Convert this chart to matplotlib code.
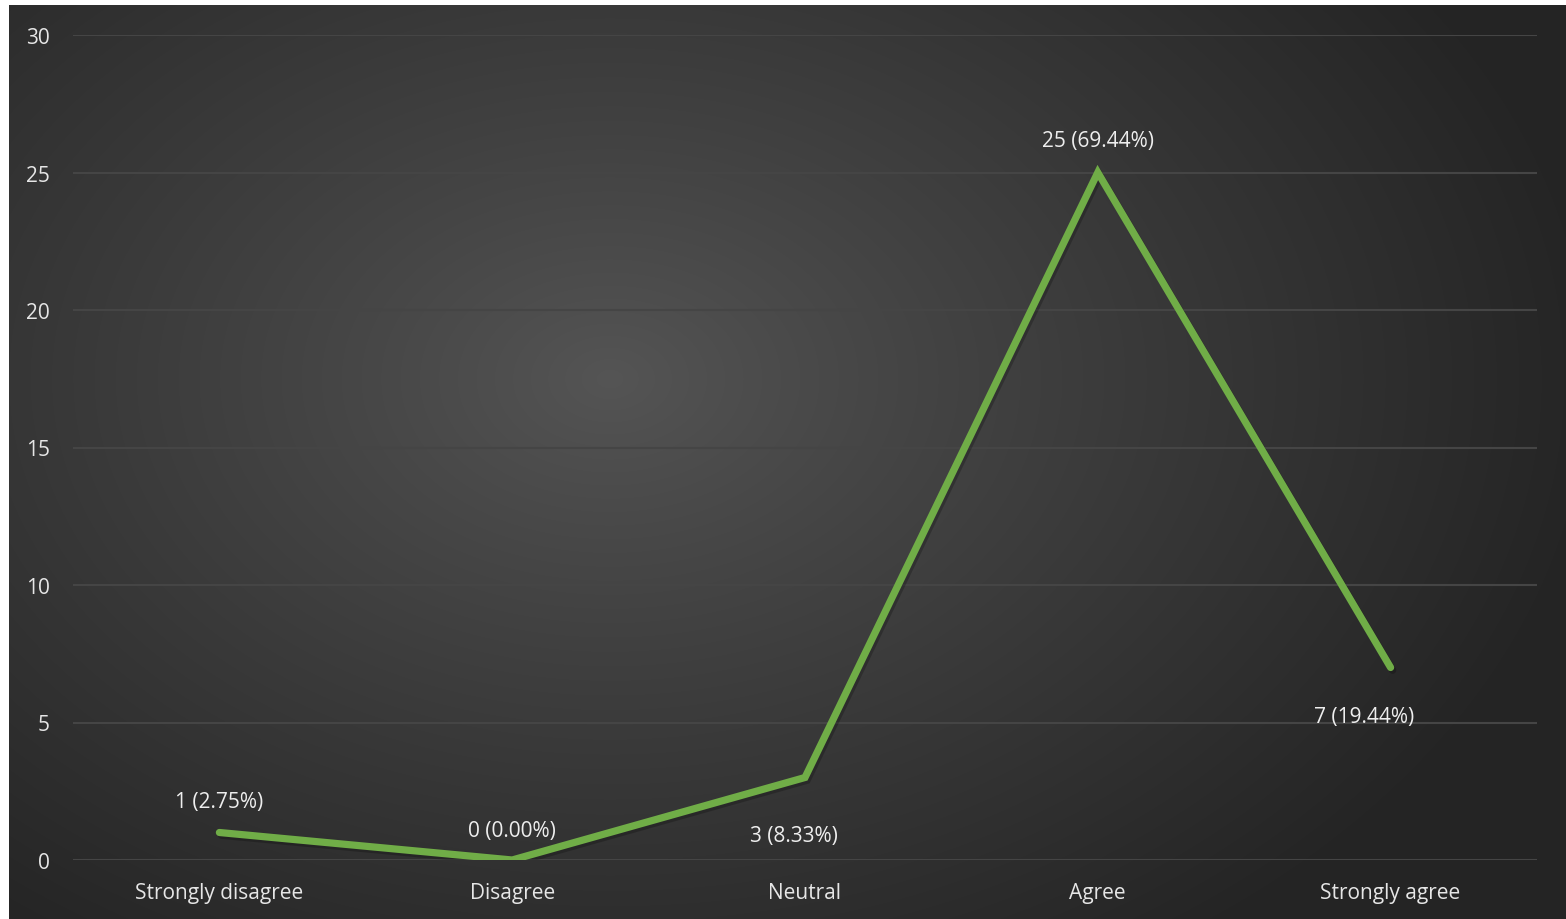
import numpy as np
import matplotlib
matplotlib.use("Agg")
import matplotlib.pyplot as plt
import matplotlib.patheffects as pe

categories = ["Strongly disagree", "Disagree", "Neutral", "Agree", "Strongly agree"]
counts = [1, 0, 3, 25, 7]
percents = ["2.75%", "0.00%", "8.33%", "69.44%", "19.44%"]
yticks = [0, 5, 10, 15, 20, 25, 30]

W, H = 1566, 920
fig = plt.figure(figsize=(W / 100, H / 100), dpi=100)
fig.patch.set_facecolor("white")

# background with radial gradient
bx0, by0 = 9, 6
bg = fig.add_axes([bx0 / W, 0, (W - bx0) / W, (H - by0) / H])
bg.set_axis_off()
nx, ny = 1557, 914
xs = np.linspace(bx0, W, nx)
ys = np.linspace(by0, H, ny)
X, Y = np.meshgrid(xs, ys)
cx, cy = 610, 380
r = np.sqrt(((X - cx) / 1000) ** 2 + ((Y - cy) / 700) ** 2)
r = np.clip(r, 0, 1)
c_in, c_out = 0x55 / 255, 0x24 / 255
val = c_in + (c_out - c_in) * r ** 0.9
img = np.dstack([val, val, val])
bg.imshow(img, aspect="auto", extent=[0, 1, 0, 1], origin="upper", interpolation="bilinear")
bg.set_xlim(0, 1)
bg.set_ylim(0, 1)

ax = fig.add_axes([73 / W, 59 / H, 1464 / W, 825 / H])
ax.patch.set_alpha(0)
x = np.arange(len(categories))
ax.plot(x, counts, color="#70AD47", lw=5.2, solid_capstyle="round", solid_joinstyle="miter",
        zorder=3,
        path_effects=[pe.SimpleLineShadow(offset=(1.5, -2), shadow_color="black", alpha=0.22),
                      pe.Normal()])
ax.set_xlim(-0.5, 4.5)
ax.set_ylim(0, 30)
ax.set_yticks(yticks)
ax.set_xticks(x)
ax.set_xticklabels(categories)
for s in ax.spines.values():
    s.set_visible(False)
ax.grid(axis="y", color="#454545", lw=1.5)
ax.set_axisbelow(True)
ax.tick_params(length=0, labelcolor="#e6e6e6", labelsize=15)
ax.tick_params(axis="x", pad=16)
ax.tick_params(axis="y", pad=16.5)
for t in ax.get_xticklabels() + ax.get_yticklabels():
    t.set_fontfamily("Open Sans")

offsets = [(0, 22.5), (0, 21.5), (-8, -42), (0, 23), (-19, -35)]
for i, (c, p) in enumerate(zip(counts, percents)):
    ax.annotate(f"{c} ({p})", (x[i], c), xytext=offsets[i], textcoords="offset points",
                ha="center", va="center", color="#eeeeee", fontsize=15, family="Open Sans")

fig.savefig("out.png", dpi=100, facecolor=fig.get_facecolor())
